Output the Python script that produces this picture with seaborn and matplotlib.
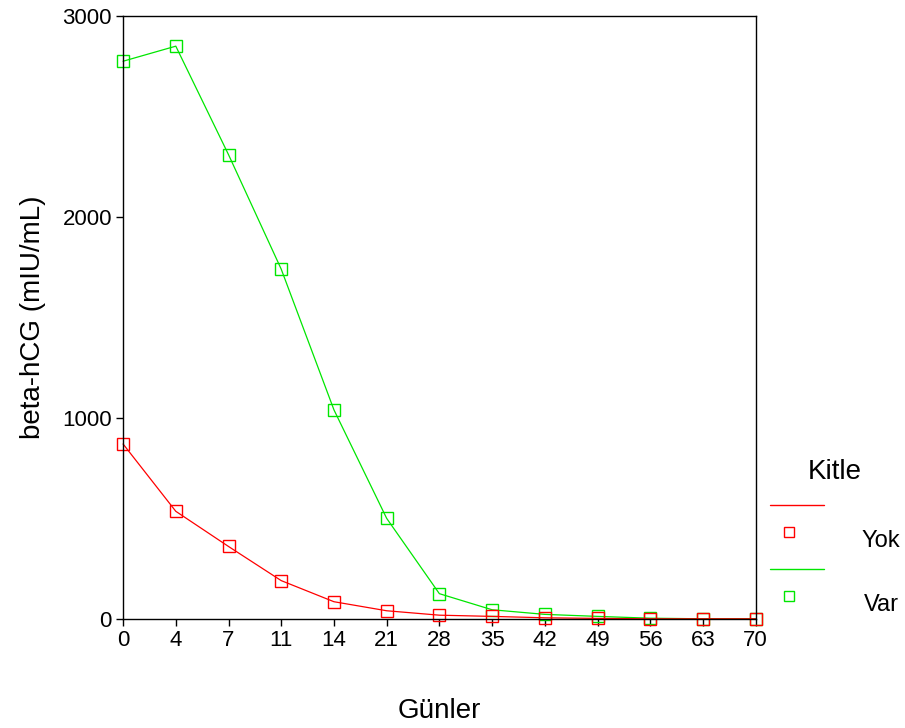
import numpy as np
import pandas as pd
import matplotlib
matplotlib.use("Agg")
import matplotlib.pyplot as plt
import seaborn as sns
from matplotlib.lines import Line2D

# ===================== DATA =====================
days = ["0", "4", "7", "11", "14", "21", "28", "35", "42", "49", "56", "63", "70"]
yok = [870, 535, 360, 190, 85, 40, 18, 12, 5, 2, 0, 0, 0]
var = [2775, 2850, 2310, 1740, 1040, 500, 125, 45, 22, 12, 3, 0, 0]
groups = ["Yok", "Var"]
colors = {"Yok": "#ff0000", "Var": "#00e600"}

df = pd.DataFrame({
    "Gün": days * 2,
    "pos": list(range(len(days))) * 2,
    "beta": yok + var,
    "Kitle": ["Yok"] * len(days) + ["Var"] * len(days),
})

# ===================== PLOT =====================
sns.set_style("white")
plt.rcParams["font.family"] = ["Liberation Sans", "DejaVu Sans"]
plt.rcParams["text.color"] = "black"
plt.rcParams["axes.labelcolor"] = "black"
plt.rcParams["xtick.color"] = "black"
plt.rcParams["ytick.color"] = "black"

fig = plt.figure(figsize=(9.05, 7.28), dpi=100)
ax = fig.add_axes([0.136, 0.150, 0.699, 0.828])

# draw Var first so Yok sits on top, like the original
sns.lineplot(data=df, x="pos", y="beta", hue="Kitle", hue_order=["Var", "Yok"],
             palette=colors, marker="s", markersize=8.5, markerfacecolor="none",
             markeredgewidth=1.0, linewidth=0.9, legend=False, ax=ax, sort=False)
for line in ax.lines:
    line.set_markeredgecolor(line.get_color())
    line.set_clip_on(False)

ax.set_xlim(0, len(days) - 1)
ax.set_ylim(0, 3000)
ax.set_xticks(range(len(days)))
ax.set_xticklabels(days)
ax.set_yticks([0, 1000, 2000, 3000])
ax.tick_params(axis="both", direction="out", length=5, width=1, labelsize=16,
               pad=3, bottom=True, left=True)
for s in ax.spines.values():
    s.set_color("black")
    s.set_linewidth(1.0)

ax.set_xlabel("Günler", fontsize=20, labelpad=34)
ax.set_ylabel("beta-hCG (mIU/mL)", fontsize=20, labelpad=12)

# ===================== LEGEND (SPSS style) =====================
W, H = 905.0, 728.0
fig.text(835 / W, 1 - 472 / H, "Kitle", fontsize=20, ha="center", va="center")
for i, g in enumerate(groups):
    ly = 505 + i * 64
    fig.add_artist(Line2D([770 / W, 824 / W], [1 - ly / H, 1 - ly / H],
                          color=colors[g], linewidth=1.0))
    fig.add_artist(Line2D([789 / W], [1 - (ly + 27) / H], marker="s",
                          markersize=7, markerfacecolor="none",
                          markeredgecolor=colors[g], linestyle="none"))
    fig.text(881 / W, 1 - (ly + 36) / H, g, fontsize=17, ha="center", va="center")

fig.savefig("out.png", dpi=100)
